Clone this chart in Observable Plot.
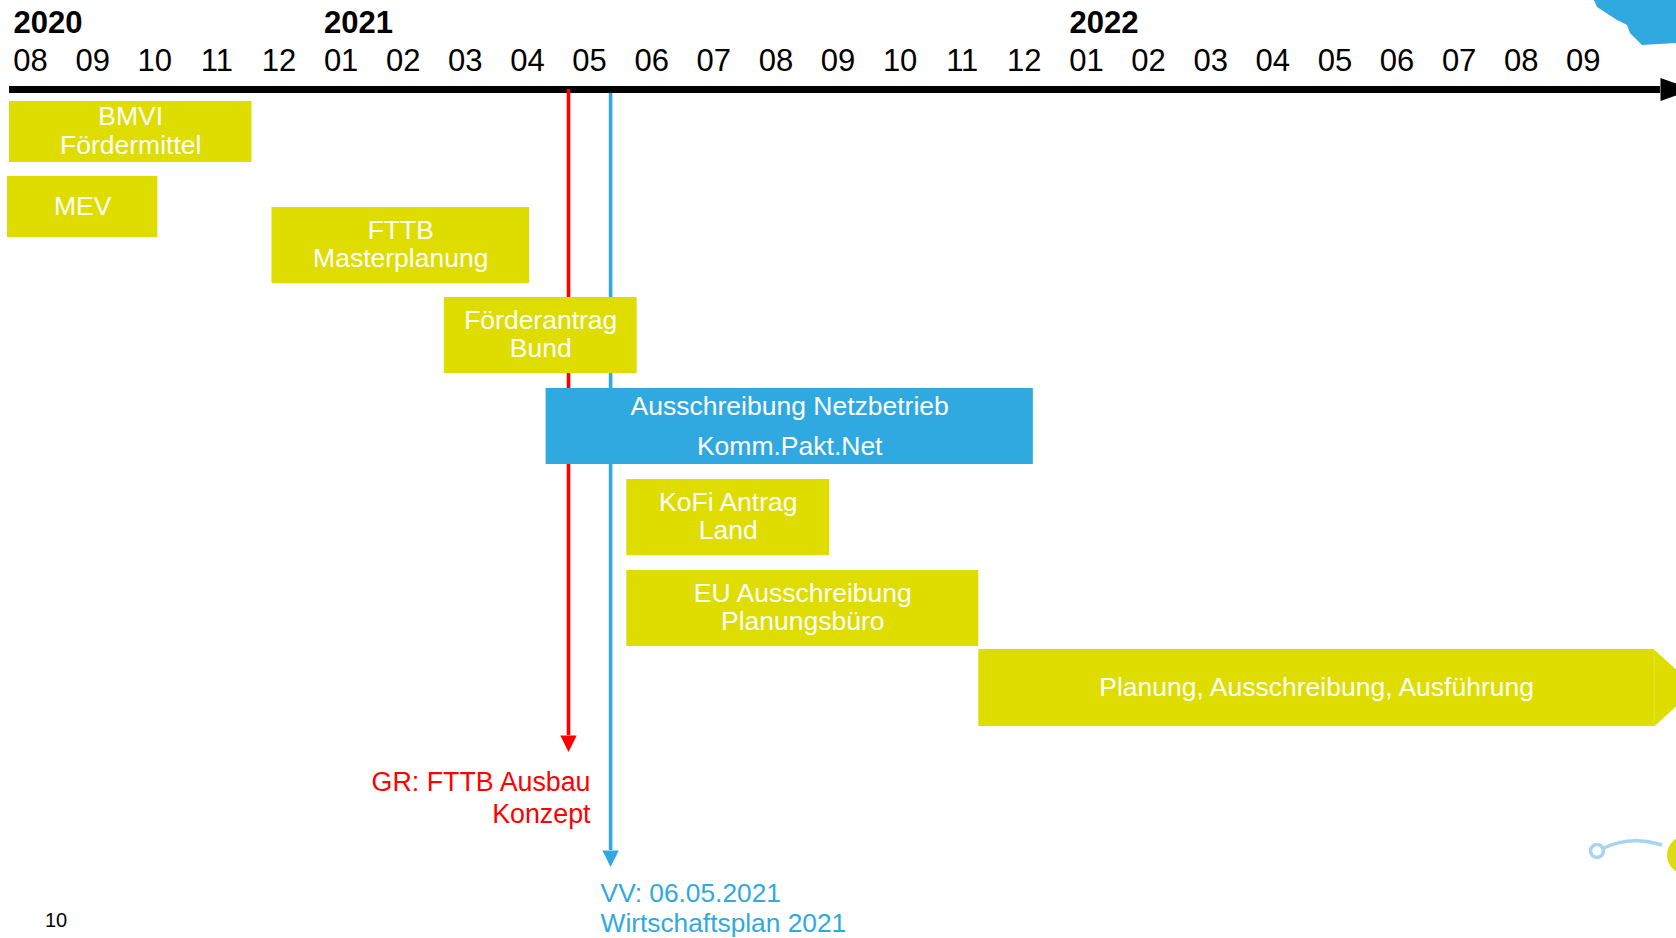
<!DOCTYPE html>
<html><head><meta charset="utf-8">
<script src="https://cdn.jsdelivr.net/npm/d3@7"></script>
<script src="https://cdn.jsdelivr.net/npm/@observablehq/plot@0.6"></script>
<style>
html,body{margin:0;padding:0;background:#fff;overflow:hidden;}
#wrap{position:relative;width:1676px;height:938px;overflow:hidden;font-family:"Liberation Sans",Arial,sans-serif;}
#wrap > svg{display:block;}
.deco{position:absolute;left:0;top:0;pointer-events:none;}
#pageno{position:absolute;left:45px;top:910px;font-size:20px;line-height:20px;color:#000;}
</style></head><body>
<div id="wrap"></div>
<script>
// ---------- data ----------
const monthLabels = ["08","09","10","11","12","01","02","03","04","05","06","07","08","09","10","11","12","01","02","03","04","05","06","07","08","09"];
const years = ["2020","2021","2022"];
const yearFirstMonth = [0, 5, 17]; // index into monthLabels

const tasks = [
  "BMVI\nFördermittel",
  "MEV",
  "FTTB\nMasterplanung",
  "Förderantrag\nBund",
  "Ausschreibung Netzbetrieb\nKomm.Pakt.Net",
  "KoFi Antrag\nLand",
  "EU Ausschreibung\nPlanungsbüro",
  "Planung, Ausschreibung, Ausführung"
];
const taskStart = ["2020-08-06","2020-08-05","2020-12-13","2021-03-06","2021-04-25","2021-06-04","2021-06-04","2021-11-24"];
const taskEnd   = ["2020-12-03","2020-10-18","2021-04-17","2021-06-09","2021-12-21","2021-09-12","2021-11-24","2022-10-21"];
const taskKind  = ["Förderung","Förderung","Planung","Förderung","Netzbetrieb","Förderung","Planung","Planung"];
const taskOpenEnded = [false,false,false,false,false,false,false,true];

const milestones = ["GR: FTTB Ausbau\nKonzept", "VV: 06.05.2021\nWirtschaftsplan 2021"];
const milestoneDate = ["2021-05-06", "2021-05-27"];

const timelineFrom = "2020-08-06";
const timelineTo = "2022-10-24";

// ---------- layout (pixels) ----------
const rowTop    = [101,176,207,297,388,479,570,649];
const rowBottom = [162,237,283,373,464,555,646,726];
const milestoneTop  = [89, 93];
const milestoneBase = [735, 850];
const AXIS_Y = 89;

const YELLOW = "#dfdc00", BLUE = "#30a9e0", RED = "#ff0000";
const FONT = "'Liberation Sans', Arial, sans-serif";

// month index: 0 = start of Aug 2020
function monthIndex(s) {
  const [y, m, d] = s.split("-").map(Number);
  const dim = new Date(Date.UTC(y, m, 0)).getUTCDate();
  return (y - 2020) * 12 + (m - 8) + (d - 1) / dim;
}
const S = taskStart.map(monthIndex), E = taskEnd.map(monthIndex);
const M = milestoneDate.map(monthIndex);
const I = d3.range(tasks.length);
const openI = I.filter(i => taskOpenEnded[i]);
const chevronHalf = (rowBottom[openI[0]] - rowTop[openI[0]]) / 2;

// triangle symbol: base centred on origin, half-width = r, pointing dir
function arrowSymbol(dir, ratio) {
  return {
    draw(ctx, size) {
      const h = Math.sqrt(size / Math.PI), d = h * ratio;
      if (dir === "right") { ctx.moveTo(0, -h); ctx.lineTo(d, 0); ctx.lineTo(0, h); }
      else { ctx.moveTo(-h, 0); ctx.lineTo(0, d); ctx.lineTo(h, 0); }
      ctx.closePath();
    }
  };
}

const chart = Plot.plot({
  width: 1676, height: 938,
  marginTop: 0, marginRight: 0, marginBottom: 0, marginLeft: 0,
  x: {domain: [0, 27], range: [-1, 1676], axis: null},
  y: {domain: [0, 938], range: [0, 938], axis: null},
  color: {domain: ["Förderung","Planung","Netzbetrieb"], range: [YELLOW, YELLOW, BLUE]},
  style: {fontFamily: FONT, background: "transparent", overflow: "hidden"},
  marks: [
    // year labels
    Plot.text(years, {x: (d, i) => yearFirstMonth[i] + 0.5, y: 32, text: d => d, textAnchor: "start", dx: -17,
      lineAnchor: "bottom", fontSize: 31, fontWeight: "bold", fill: "#000"}),
    // month labels
    Plot.text(monthLabels, {x: (d, i) => i + 0.5, y: 70, text: d => d, lineAnchor: "bottom", fontSize: 31, fill: "#000"}),
    // timeline axis
    Plot.ruleY([AXIS_Y], {x1: monthIndex(timelineFrom), x2: monthIndex(timelineTo), stroke: "#000", strokeWidth: 7}),
    Plot.dot([AXIS_Y], {x: monthIndex(timelineTo), y: d => d, r: 11.5, symbol: arrowSymbol("right", 2.87), fill: "#000"}),
    // milestone lines
    Plot.ruleX([0, 1], {x: i => M[i], y1: i => milestoneTop[i], y2: i => milestoneBase[i],
      stroke: i => i === 0 ? RED : BLUE, strokeWidth: 3.6}),
    Plot.dot([0, 1], {x: i => M[i], y: i => milestoneBase[i], r: 8.2, symbol: arrowSymbol("down", 2.0),
      fill: i => i === 0 ? RED : BLUE}),
    // task boxes
    Plot.rect(I, {x1: i => S[i], x2: i => E[i], y1: i => rowTop[i], y2: i => rowBottom[i], fill: i => taskKind[i]}),
    Plot.dot(openI, {x: i => E[i] - 0.005, y: i => (rowTop[i] + rowBottom[i]) / 2,
      r: chevronHalf, symbol: arrowSymbol("right", 1.09), fill: i => taskKind[i]}),
    // task labels
    Plot.text(I.filter(i => taskKind[i] !== "Netzbetrieb"), {x: i => (S[i] + E[i]) / 2, y: i => (rowTop[i] + rowBottom[i]) / 2,
      text: i => tasks[i], fill: "#fff", fontSize: 26.5, lineHeight: 1.08, dy: -1.5}),
    Plot.text(I.filter(i => taskKind[i] === "Netzbetrieb"), {x: i => (S[i] + E[i]) / 2, y: i => (rowTop[i] + rowBottom[i]) / 2,
      text: i => tasks[i], fill: "#fff", fontSize: 26.5, lineHeight: 1.5, dy: -4}),
    // milestone labels
    Plot.text([0], {x: i => M[i], y: i => milestoneBase[i], text: i => milestones[i], textAnchor: "end", dx: 22, dy: 33,
      lineAnchor: "top", lineHeight: 1.2, fontSize: 26.8, fill: RED}),
    Plot.text([1], {x: i => M[i], y: i => milestoneBase[i], text: i => milestones[i], textAnchor: "start", dx: -10, dy: 30,
      lineAnchor: "top", lineHeight: 1.15, fontSize: 26.3, fill: BLUE})
  ]
});
const wrap = document.getElementById("wrap");
wrap.appendChild(chart);

// decorations (slide ornaments)
const ns = "http://www.w3.org/2000/svg";
const deco = document.createElementNS(ns, "svg");
deco.setAttribute("class", "deco");
deco.setAttribute("width", 1676); deco.setAttribute("height", 938);
deco.innerHTML = `
  <path d="M1594,0 L1597,7 L1617,20 L1627,25 L1630,33 L1642,45 L1676,43 L1676,0 Z" fill="${BLUE}"/>
  <circle cx="1597" cy="851" r="6.5" fill="none" stroke="#a9d4f0" stroke-width="3.5"/>
  <path d="M1604,848 Q1630,835 1662,845" fill="none" stroke="#a9d4f0" stroke-width="3.5"/>
  <circle cx="1686" cy="855" r="19" fill="#dcdc10"/>`;
wrap.appendChild(deco);
const pn = document.createElement("div");
pn.id = "pageno"; pn.textContent = "10";
wrap.appendChild(pn);
</script>
</body></html>
